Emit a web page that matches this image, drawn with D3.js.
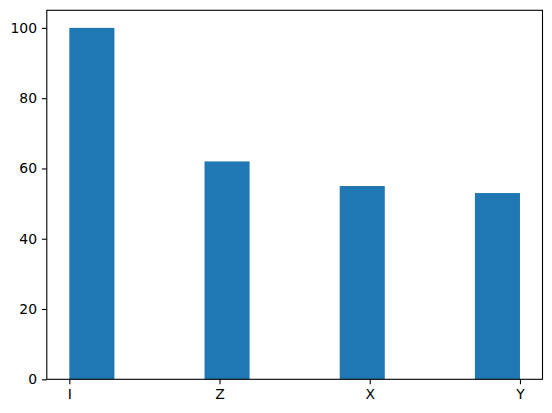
<!DOCTYPE html>
<html>
<head>
<meta charset="utf-8">
<script src="https://cdn.jsdelivr.net/npm/d3@7"></script>
<style>
  body { margin: 0; background: #fff; }
  .axis text { font-family: "DejaVu Sans", sans-serif; font-size: 13.9px; fill: #000; }
  .axis path, .axis line { stroke: #000; stroke-width: 1.1px; }
</style>
</head>
<body>
<div id="chart"></div>
<script>
// data
var categories = ['I', 'Z', 'X', 'Y'];
var counts = [100, 62, 55, 53];
var yTicks = [0, 20, 40, 60, 80, 100];
var nBins = 10;

var w = 552, h = 413;
var margin = {top: 10.3, right: 9.5, bottom: 33.7, left: 46.8};
var innerW = w - margin.left - margin.right,
    innerH = h - margin.top - margin.bottom;

var svg = d3.select('#chart').append('svg')
    .attr('width', w)
    .attr('height', h)
  .append('g')
    .attr('transform', 'translate(' + [margin.left, margin.top] + ')');

// histogram of category positions 0..n-1 into nBins bins
var lo = 0, hi = categories.length - 1;
var binW = (hi - lo) / nBins;
var bars = categories.map(function(c, i) {
  var b = Math.min(Math.floor((i - lo) / binW + 1e-9), nBins - 1);
  return {cat: c, x0: lo + b * binW, x1: lo + (b + 1) * binW, count: counts[i]};
});

var pad = (hi - lo) * 0.05;
var x = d3.scaleLinear().domain([lo - pad, hi + pad]).range([0, innerW]);
var y = d3.scaleLinear().domain([0, d3.max(counts) * 1.05]).range([innerH, 0]);

svg.selectAll('rect.bar')
    .data(bars)
  .enter().append('rect')
    .attr('class', 'bar')
    .attr('x', function(d) { return x(d.x0); })
    .attr('width', function(d) { return x(d.x1) - x(d.x0); })
    .attr('y', function(d) { return y(d.count); })
    .attr('height', function(d) { return innerH - y(d.count); })
    .attr('fill', '#1f77b4');

// axes
var xAxis = d3.axisBottom(x)
    .tickValues(d3.range(categories.length))
    .tickFormat(function(d) { return categories[d]; })
    .tickSizeInner(4.9)
    .tickSizeOuter(0)
    .tickPadding(4.9);
var yAxis = d3.axisLeft(y)
    .tickValues(yTicks)
    .tickSizeInner(4.9)
    .tickSizeOuter(0)
    .tickPadding(4.9);

svg.append('g')
    .attr('class', 'x axis')
    .attr('transform', 'translate(0,' + innerH + ')')
    .call(xAxis);
svg.append('g')
    .attr('class', 'y axis')
    .call(yAxis);

svg.selectAll('.axis .domain').remove();

// frame
svg.append('rect')
    .attr('x', 0)
    .attr('y', 0)
    .attr('width', innerW)
    .attr('height', innerH)
    .attr('fill', 'none')
    .attr('stroke', '#000')
    .attr('stroke-width', 1.1);
</script>
</body>
</html>
